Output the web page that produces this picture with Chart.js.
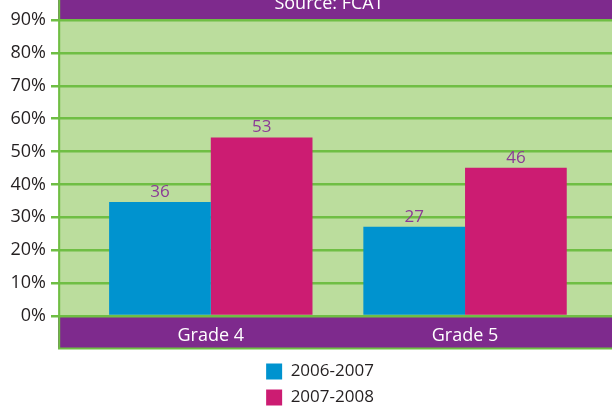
<!DOCTYPE html>
<html>
<head>
<meta charset="utf-8">
<script src="https://cdn.jsdelivr.net/npm/chart.js@4/dist/chart.umd.min.js"></script>
<style>
  html, body { margin: 0; padding: 0; background: #ffffff; }
  #c { display: block; }
</style>
</head>
<body>
<canvas id="c" width="612" height="406"></canvas>
<script>
// ---- data ----
const categories = ['Grade 4', 'Grade 5'];
const seriesNames = ['2006-2007', '2007-2008'];
const values2006 = [34.7, 27.1];      // bar heights as drawn
const values2007 = [54.3, 45.1];
const labels2006 = ['36', '27'];      // value labels as printed
const labels2007 = ['53', '46'];
const yTickValues = [0, 10, 20, 30, 40, 50, 60, 70, 80, 90];
const titleText = 'Source: FCAT';

// ---- styles ----
const PURPLE = '#7e2a8d';
const BG_GREEN = '#bbdd9d';
const GRID_GREEN = '#6fbe44';
const BLUE = '#0093cf';
const PINK = '#cc1c72';
const LABEL_PURPLE = '#8b3a96';
const TEXT = '#231f20';
const FONT = "'Open Sans', 'Liberation Sans', sans-serif";

const valueLabels = [labels2006, labels2007];
const LEGEND_BOX_LEFT = 245;
const LEGEND_BOX_WIDTH = 150;

const decor = {
  id: 'decor',
  afterInit(chart) {
    const lg = chart.legend;
    if (lg) {
      const orig = lg.update.bind(lg);
      lg.update = (w, h, m) => orig(LEGEND_BOX_WIDTH, h, m);   // one item per row
    }
  },
  afterLayout(chart) {
    const lg = chart.legend;
    lg.left = LEGEND_BOX_LEFT;
    lg.right = LEGEND_BOX_LEFT + LEGEND_BOX_WIDTH;
    lg.width = LEGEND_BOX_WIDTH;
  },
  beforeDraw(chart) {
    const ctx = chart.ctx;
    const a = chart.chartArea;
    const W = chart.width;
    ctx.save();
    ctx.fillStyle = '#ffffff';
    ctx.fillRect(0, 0, W, chart.height);
    ctx.fillStyle = PURPLE;
    ctx.fillRect(a.left, 0, W - a.left, a.top);
    ctx.fillStyle = BG_GREEN;
    ctx.fillRect(a.left, a.top, W - a.left, a.bottom - a.top);
    ctx.fillStyle = PURPLE;
    ctx.fillRect(a.left, a.bottom, W - a.left, 32);
    ctx.fillStyle = '#ffffff';
    ctx.font = '18px ' + FONT;
    ctx.textAlign = 'center';
    ctx.textBaseline = 'alphabetic';
    ctx.fillText(titleText, (a.left + W) / 2 - 6, 9);
    ctx.restore();
  },
  afterDatasetsDraw(chart) {
    const ctx = chart.ctx;
    ctx.save();
    ctx.fillStyle = LABEL_PURPLE;
    ctx.font = '17px ' + FONT;
    ctx.textAlign = 'center';
    ctx.textBaseline = 'alphabetic';
    chart.data.datasets.forEach((ds, di) => {
      const meta = chart.getDatasetMeta(di);
      meta.data.forEach((bar, i) => {
        ctx.fillText(valueLabels[di][i], bar.x, bar.y - 5);
      });
    });
    ctx.restore();
  },
  afterDraw(chart) {
    const ctx = chart.ctx;
    const a = chart.chartArea;
    ctx.save();
    ctx.strokeStyle = GRID_GREEN;
    ctx.lineWidth = 2;
    ctx.beginPath();
    ctx.moveTo(a.left + 1.2, 0);
    ctx.lineTo(a.left + 1.2, a.bottom + 33.5);
    ctx.moveTo(a.left, a.bottom + 32.5);
    ctx.lineTo(chart.width, a.bottom + 32.5);
    ctx.stroke();
    ctx.restore();
  }
};

new Chart(document.getElementById('c'), {
  type: 'bar',
  data: {
    datasets: [
      {
        label: seriesNames[0],
        data: categories.map((c, i) => ({ x: i + 1, y: values2006[i] })),
        backgroundColor: BLUE,
        borderWidth: 0
      },
      {
        label: seriesNames[1],
        data: categories.map((c, i) => ({ x: i + 1, y: values2007[i] })),
        backgroundColor: PINK,
        borderWidth: 0
      }
    ]
  },
  options: {
    responsive: false,
    animation: false,
    layout: { padding: { top: 20, left: 0, right: 0, bottom: -10 } },
    datasets: { bar: { categoryPercentage: 0.8, barPercentage: 1.0 } },
    scales: {
      x: {
        type: 'linear',
        min: 0.399,
        max: 2.578,
        offset: false,
        grid: { display: false },
        border: { display: false },
        afterBuildTicks: (s) => { s.ticks = categories.map((c, i) => ({ value: i + 1 })); },
        afterFit: (s) => { s.height = 38; },
        ticks: {
          callback: (v) => categories[v - 1],
          color: '#ffffff',
          font: { family: FONT, size: 18 },
          padding: 1,
          maxRotation: 0,
          autoSkip: false
        }
      },
      y: {
        min: 0,
        max: 90,
        afterBuildTicks: (s) => { s.ticks = yTickValues.map(v => ({ value: v })); },
        afterFit: (s) => { s.width = 58; },
        grid: {
          color: GRID_GREEN,
          lineWidth: 2.5,
          tickLength: 7,
          tickColor: GRID_GREEN,
          tickWidth: 2.5
        },
        border: { display: false },
        ticks: {
          callback: (v) => v + '%',
          color: TEXT,
          font: { family: FONT, size: 18 },
          padding: 5
        }
      }
    },
    plugins: {
      tooltip: { enabled: false },
      title: { display: false },
      legend: {
        display: true,
        position: 'bottom',
        labels: {
          boxWidth: 16,
          boxHeight: 16,
          padding: 9,
          color: TEXT,
          font: { family: FONT, size: 17 }
        }
      }
    }
  },
  plugins: [decor]
});
</script>
</body>
</html>
